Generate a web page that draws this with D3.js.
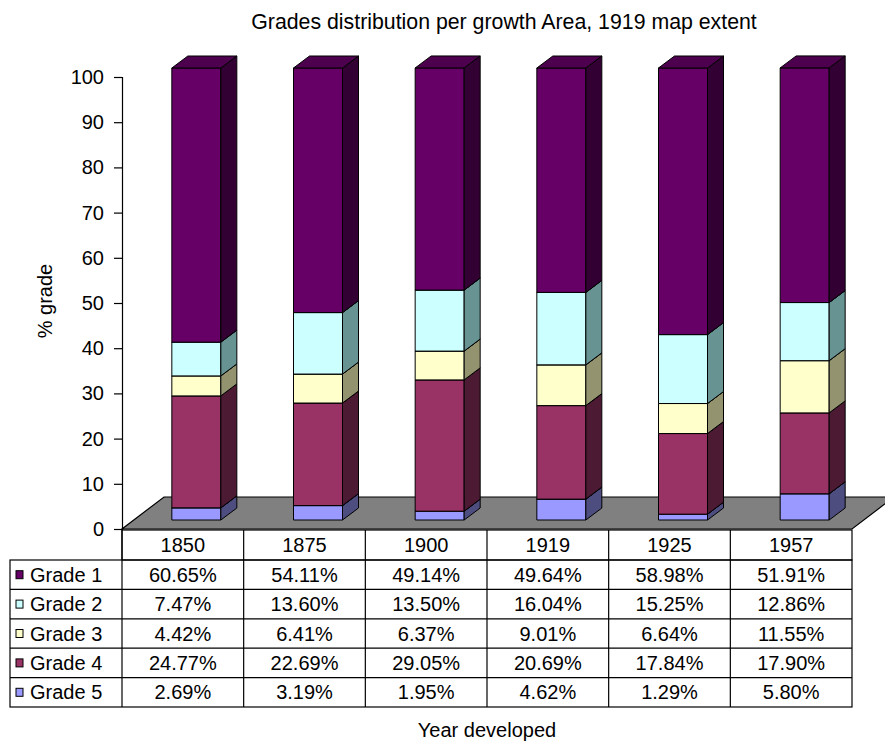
<!DOCTYPE html>
<html>
<head>
<meta charset="utf-8">
<script src="https://cdn.jsdelivr.net/npm/d3@7"></script>
<style>
  html, body { margin: 0; padding: 0; background: #fff; }
  svg { display: block; font-family: "Liberation Sans", Arial, sans-serif; }
</style>
</head>
<body>
<svg id="chart" width="885" height="742"></svg>
<script>
// Years (categories) and percentage share of each grade
const years = ["1850", "1875", "1900", "1919", "1925", "1957"];
const grades = ["Grade 1", "Grade 2", "Grade 3", "Grade 4", "Grade 5"];
const grade1 = [60.65, 54.11, 49.14, 49.64, 58.98, 51.91];
const grade2 = [7.47, 13.60, 13.50, 16.04, 15.25, 12.86];
const grade3 = [4.42, 6.41, 6.37, 9.01, 6.64, 11.55];
const grade4 = [24.77, 22.69, 29.05, 20.69, 17.84, 17.90];
const grade5 = [2.69, 3.19, 1.95, 4.62, 1.29, 5.80];
const yTicks = [0, 10, 20, 30, 40, 50, 60, 70, 80, 90, 100];

const seriesValues = [grade1, grade2, grade3, grade4, grade5];
// face colours: front, side, top
const palette = [
  { front: "#660066", side: "#330033", top: "#4d004d" },
  { front: "#ccffff", side: "#679393", top: "#99bfbf" },
  { front: "#ffffcc", side: "#939370", top: "#bfbf99" },
  { front: "#993366", side: "#4d1a33", top: "#73264d" },
  { front: "#9999ff", side: "#4d4d80", top: "#7373bf" }
];

const svg = d3.select("#chart");
const left = 122, right = 852;
const x = d3.scaleBand().domain(years).range([left, right]).padding(0);
const y = d3.scaleLinear().domain([0, 100]).range([529, 77]);

// 3-D geometry
const floorDx = 42, floorDy = -32;   // floor depth
const barShiftX = 13.5, barShiftY = -9; // bar front plane offset into the floor
const barW = 49, depthX = 16, depthY = -12;

// Title
svg.append("text")
  .attr("x", 504).attr("y", 28.5)
  .attr("text-anchor", "middle")
  .attr("font-size", 21.3)
  .text("Grades distribution per growth Area, 1919 map extent");

// Floor
const f0 = y(0);
svg.append("polygon")
  .attr("points", [
    [left, f0], [right, f0], [right + floorDx, f0 + floorDy], [left + floorDx, f0 + floorDy]
  ].map(p => p.join(",")).join(" "))
  .attr("fill", "#808080").attr("stroke", "#000").attr("stroke-width", 1.2);

// Stacked data
const stackData = years.map((yr, i) => {
  const row = { year: yr };
  grades.forEach((g, k) => row[g] = seriesValues[k][i]);
  return row;
});
// stack from bottom (Grade 5) to top (Grade 1)
const order = grades.slice().reverse();
const stacked = d3.stack().keys(order)(stackData);

const bars = svg.append("g");
years.forEach((yr, i) => {
  const cx = x(yr) + x.bandwidth() / 2 + barShiftX;
  const x0 = cx - barW / 2, x1 = cx + barW / 2;
  stacked.forEach(layer => {
    const d = layer[i];
    const k = grades.indexOf(layer.key);
    const c = palette[k];
    const yb = y(d[0]) + barShiftY, yt = y(d[1]) + barShiftY;
    const g = bars.append("g").attr("stroke", "#000").attr("stroke-width", 1).attr("stroke-linejoin", "round");
    g.append("polygon")
      .attr("points", [[x0, yb], [x1, yb], [x1, yt], [x0, yt]].map(p => p.join(",")).join(" "))
      .attr("fill", c.front);
    g.append("polygon")
      .attr("points", [[x1, yb], [x1 + depthX, yb + depthY], [x1 + depthX, yt + depthY], [x1, yt]].map(p => p.join(",")).join(" "))
      .attr("fill", c.side);
    g.append("polygon")
      .attr("points", [[x0, yt], [x1, yt], [x1 + depthX, yt + depthY], [x0 + depthX, yt + depthY]].map(p => p.join(",")).join(" "))
      .attr("fill", c.top);
  });
});

// Value axis
const axis = svg.append("g")
  .attr("transform", `translate(${left},0)`)
  .call(d3.axisLeft(y).tickValues(yTicks).tickSize(8).tickPadding(10).tickFormat(d3.format("d")));
axis.select(".domain").attr("stroke", "#000").attr("stroke-width", 1.2);
axis.selectAll(".tick line").attr("stroke", "#000").attr("stroke-width", 1.2);
axis.selectAll(".tick text").attr("font-size", 20).attr("fill", "#000")
  .attr("font-family", "Liberation Sans, Arial, sans-serif");

// Axis title
svg.append("text")
  .attr("transform", "translate(52,301) rotate(-90)")
  .attr("text-anchor", "middle")
  .attr("font-size", 20)
  .text("% grade");

// Data table
const tableTop = 530, headerBottom = 560, tableBottom = 707, labelLeft = 10;
const rowH = (tableBottom - headerBottom) / grades.length;
const table = svg.append("g").attr("stroke", "#000").attr("stroke-width", 1.2).attr("fill", "none");
// header row
table.append("rect").attr("x", left).attr("y", tableTop).attr("width", right - left).attr("height", headerBottom - tableTop);
// body
table.append("rect").attr("x", labelLeft).attr("y", headerBottom).attr("width", right - labelLeft).attr("height", tableBottom - headerBottom);
grades.forEach((g, k) => {
  if (k > 0) {
    const yy = headerBottom + k * rowH;
    table.append("line").attr("x1", labelLeft).attr("x2", right).attr("y1", yy).attr("y2", yy);
  }
});
years.forEach(yr => {
  const xx = x(yr);
  table.append("line").attr("x1", xx).attr("x2", xx).attr("y1", tableTop).attr("y2", tableBottom);
});

const txt = svg.append("g").attr("font-size", 20).attr("fill", "#000");
years.forEach(yr => {
  txt.append("text")
    .attr("x", x(yr) + x.bandwidth() / 2)
    .attr("y", (tableTop + headerBottom) / 2 + 7)
    .attr("text-anchor", "middle")
    .text(yr);
});
grades.forEach((g, k) => {
  const cy = headerBottom + (k + 0.5) * rowH;
  svg.append("rect")
    .attr("x", 16).attr("y", cy - 4).attr("width", 7).attr("height", 8)
    .attr("fill", palette[k].front).attr("stroke", "#000").attr("stroke-width", 1);
  txt.append("text").attr("x", 30).attr("y", cy + 7).text(g);
  years.forEach((yr, i) => {
    txt.append("text")
      .attr("x", x(yr) + x.bandwidth() / 2)
      .attr("y", cy + 7)
      .attr("text-anchor", "middle")
      .text(seriesValues[k][i].toFixed(2) + "%");
  });
});

// Category axis title
svg.append("text")
  .attr("x", 487).attr("y", 737)
  .attr("text-anchor", "middle")
  .attr("font-size", 20)
  .text("Year developed");
</script>
</body>
</html>
